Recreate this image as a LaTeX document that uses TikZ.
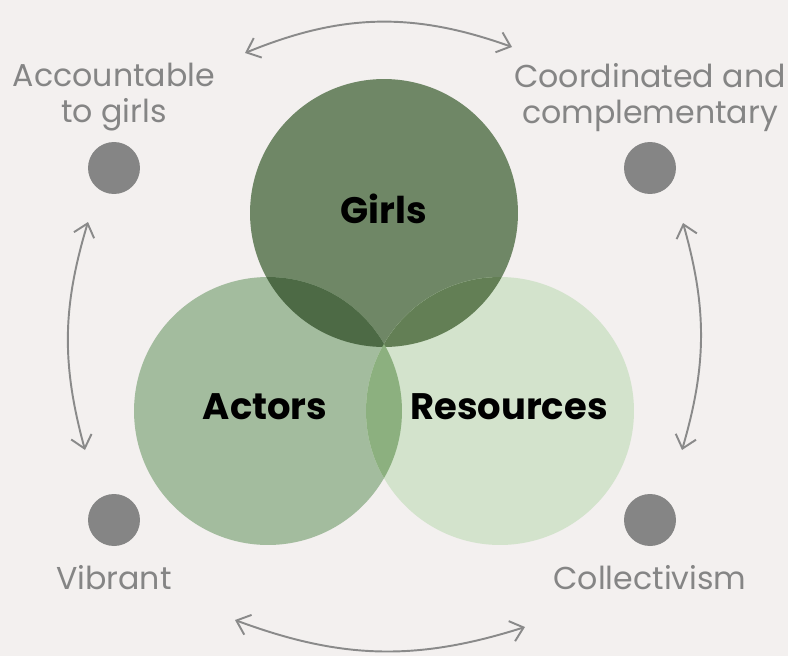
\documentclass[tikz,border=0pt]{standalone}
\usepackage{fontspec}
\setmainfont{Poppins}
\usetikzlibrary{positioning, arrows.meta}
\definecolor{bgcol}{HTML}{F3F0EF}
\definecolor{girlsgreen}{HTML}{6F8766}
\definecolor{actorsgreen}{HTML}{A3BC9E}
\definecolor{resgreen}{HTML}{D3E3CC}
\definecolor{gaover}{HTML}{4D6A45}
\definecolor{grover}{HTML}{637F55}
\definecolor{arover}{HTML}{8CB07F}
\definecolor{dotgrey}{HTML}{858585}
\definecolor{linegrey}{HTML}{8A8A8A}

\begin{document}
\begin{tikzpicture}[x=0.02cm, y=-0.02cm,
    venn/.style = {circle, minimum size=5.36cm, inner sep=0pt},
    dot/.style = {circle, fill=dotgrey, minimum size=1.04cm, inner sep=0pt},
    value/.style = {text=dotgrey, font=\fontsize{18}{20.5}\selectfont, align=center, inner sep=0pt},
    title/.style = {font=\fontsize{21}{24}\selectfont\bfseries, inner sep=0pt},
    link/.style = {draw=linegrey, line width=1.1pt, {Straight Barb[length=7pt, width=12pt]}-{Straight Barb[length=7pt, width=12pt]}},
    ]

        % Background
        \fill[bgcol] (0,0) rectangle (788,656);
        \useasboundingbox (0,0) rectangle (788,656);

        % Circles
        \node[venn, fill=girlsgreen] (girls) at (384,213) {};
        \node[venn, fill=actorsgreen] (actors) at (268,411) {};
        \node[venn, fill=resgreen] (resources) at (500,411) {};
        \begin{scope}
            \clip (girls.center) circle (2.68cm);
            \fill[gaover] (actors.center) circle (2.68cm);
        \end{scope}
        \begin{scope}
            \clip (girls.center) circle (2.68cm);
            \fill[grover] (resources.center) circle (2.68cm);
        \end{scope}
        \begin{scope}
            \clip (actors.center) circle (2.68cm);
            \fill[arover] (resources.center) circle (2.68cm);
        \end{scope}
        %
        \node[title] (girlsText) at (384,209) {Girls};
        \node[title] (actorsText) at (265,407) {Actors};
        \node[title] (resText) at (509,407) {Resources};

        % Dots and labels
        \node[dot] (acc) at (114,168) {};
        \node[value, above=0.2cm of acc] (accText) {Accountable\\to girls};
        \node[dot] (coord) at (650,168) {};
        \node[value, above=0.2cm of coord] (coordText) {Coordinated and\\complementary};
        \node[dot] (vib) at (114,520) {};
        \node[value, below=0.38cm of vib] (vibText) {Vibrant};
        \node[dot] (coll) at (650,520) {};
        \node[value, below=0.38cm of coll] (collText) {Collectivism};

        % Arrows
        \coordinate (topL) at (245,53);
        \coordinate (topR) at (512,47);
        \coordinate (leftT) at (88,222);
        \coordinate (leftB) at (85,450);
        \coordinate (rightT) at (683,223);
        \coordinate (rightB) at (682,450);
        \coordinate (botL) at (235,620);
        \coordinate (botR) at (525,627);
        \draw[link] (topL) to[bend left=21] (topR);
        \draw[link] (leftT) to[bend right=16] (leftB);
        \draw[link] (rightT) to[bend left=16] (rightB);
        \draw[link] (botL) to[bend right=19] (botR);
    \end{tikzpicture}
\end{document}
